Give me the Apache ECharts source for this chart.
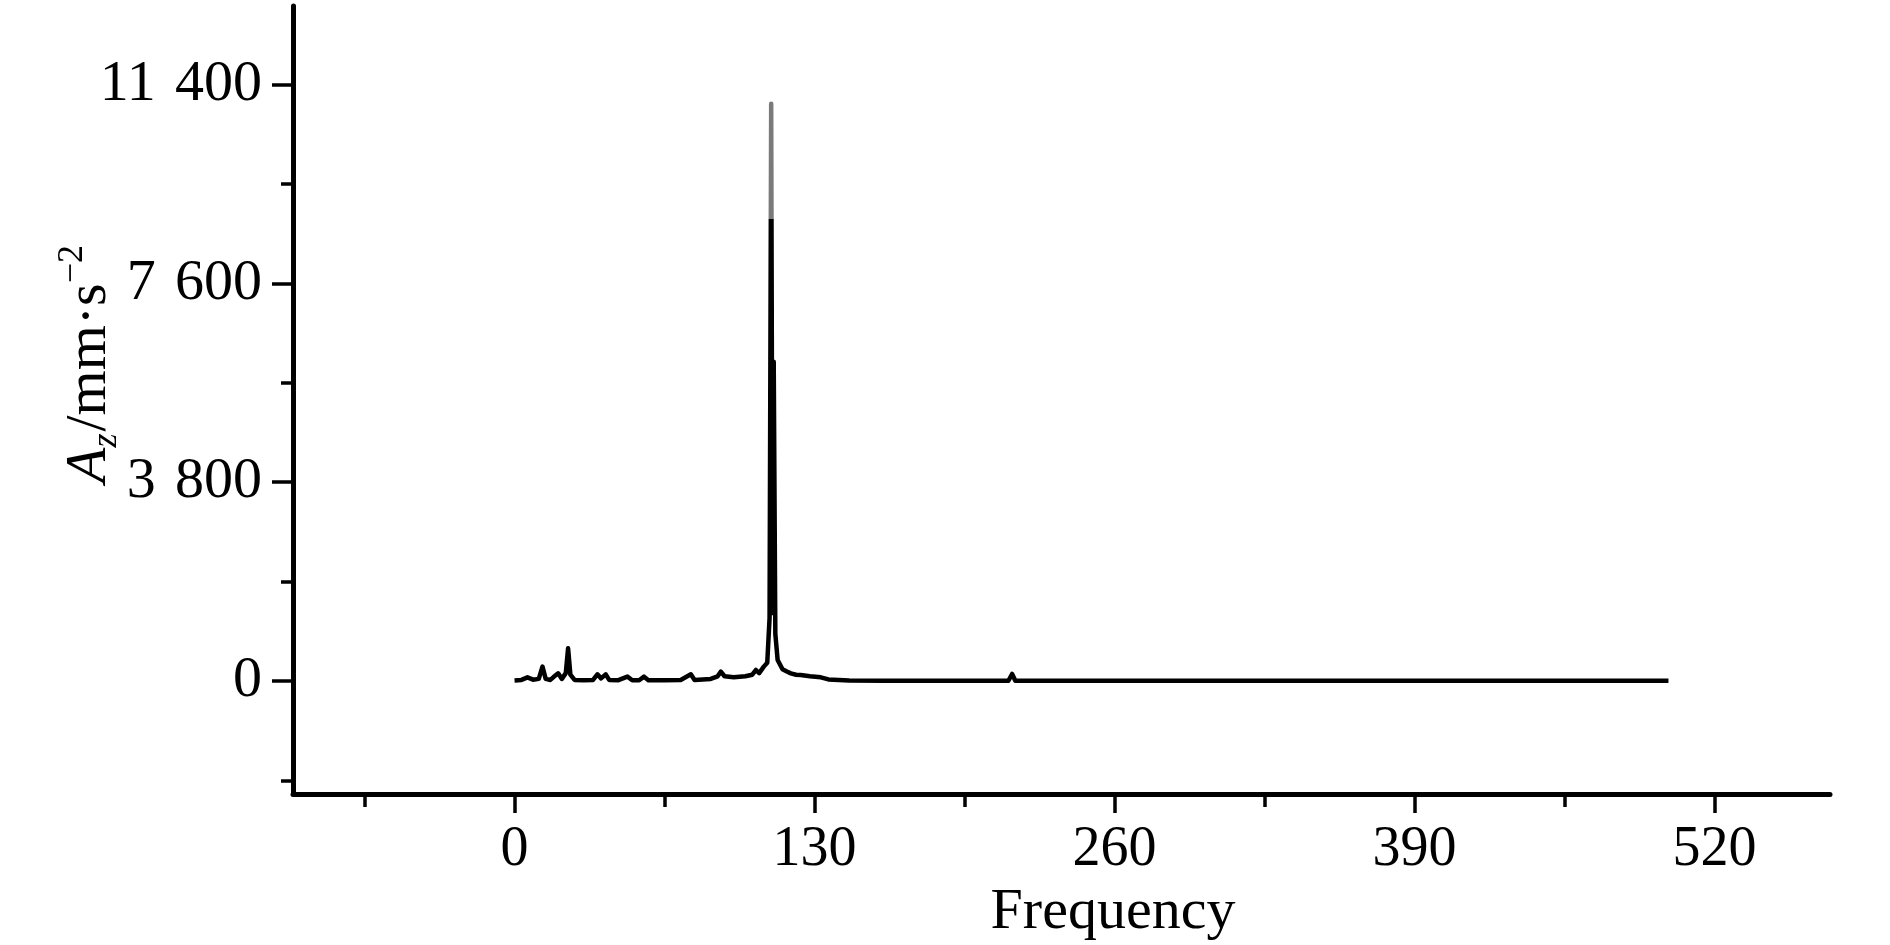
<!DOCTYPE html>
<html>
<head>
<meta charset="utf-8">
<script src="https://cdn.jsdelivr.net/npm/echarts@6/dist/echarts.min.js"></script>
<style>
html,body{margin:0;padding:0;background:#fff;}
#chart{width:1890px;height:945px;}
</style>
</head>
<body>
<div id="chart"></div>
<script>
// Frequency (Hz) and amplitude A_z (mm·s^-2)
const freq = [0, 3, 5.6, 8, 10.5, 12.1, 13.5, 15.5, 17, 18.9, 20.5, 22.2, 23.2, 24.2, 26, 30, 34, 35.9, 37.5, 39.5, 41, 45, 48.9, 51, 54, 56.1, 58, 65, 72, 76.4, 78, 85, 88, 89.4, 91, 95, 100, 103, 104.6, 106, 108, 109.5, 110.5, 111.2, 111.8, 112.3, 113, 114, 116.1, 118, 119.7, 122, 124, 128, 132.7, 136, 145, 160, 200, 214, 215.6, 217, 260, 350, 450, 500];
const amp  = [10, 20, 70, 25, 40, 275, 40, 20, 80, 146, 40, 150, 624, 120, 20, 15, 20, 127, 50, 127, 20, 15, 83, 15, 15, 83, 15, 15, 20, 127, 20, 40, 90, 178, 90, 70, 90, 120, 210, 150, 274, 350, 1200, 11030, 1300, 6100, 900, 400, 223, 180, 146, 120, 115, 90, 70, 30, 10, 5, 5, 5, 134, 5, 3, 3, 3, 3];
const grayAbove = 8800; // the top of the main peak is drawn grey in the reference

const xMajorTicks = [0, 130, 260, 390, 520];
const xMinorTicks = [-65, 65, 195, 325, 455];
const yMajorTicks = [0, 3800, 7600, 11400];
const yMinorTicks = [-1900, 1900, 5700, 9500];
const xRange = [-96, 570];
const yRange = [-2160, 12900];

const FONT = '"Liberation Serif", "Times New Roman", serif';
const chart = echarts.init(document.getElementById('chart'), null, {renderer: 'canvas'});

function fmtY(v) {
  const s = String(Math.round(v));
  if (s.length <= 3) return s;
  return s.slice(0, s.length - 3) + '\u2004' + s.slice(s.length - 3);
}

const aMax = Math.max.apply(null, amp), aMin = Math.min.apply(null, amp);
const gStop = (aMax - grayAbove) / (aMax - aMin);
const lineColor = {
  type: 'linear', x: 0, y: 0, x2: 0, y2: 1,
  colorStops: [
    {offset: 0, color: '#7a7a7a'}, {offset: gStop, color: '#7a7a7a'},
    {offset: gStop, color: '#000'}, {offset: 1, color: '#000'}
  ]
};

const axisLineStyle = {show: true, onZero: false, lineStyle: {color: '#000', width: 5}};
const tickStyle = {color: '#000', width: 3.5};

const option = {
  backgroundColor: '#fff',
  animation: false,
  grid: {left: 293, right: 60, top: 6, bottom: 151},
  xAxis: [
    {
      type: 'value', min: xRange[0], max: xRange[1], position: 'bottom',
      axisLine: axisLineStyle,
      axisTick: {show: true, inside: false, length: 19, customValues: xMajorTicks, lineStyle: tickStyle},
      axisLabel: {show: true, customValues: xMajorTicks, margin: 28, fontSize: 56, fontFamily: FONT, color: '#000'},
      splitLine: {show: false}
    },
    {
      type: 'value', min: xRange[0], max: xRange[1], position: 'bottom',
      axisLine: {show: false, onZero: false},
      axisTick: {show: true, inside: false, length: 13, customValues: xMinorTicks, lineStyle: tickStyle},
      axisLabel: {show: false},
      splitLine: {show: false}
    }
  ],
  yAxis: [
    {
      type: 'value', min: yRange[0], max: yRange[1], position: 'left',
      axisLine: axisLineStyle,
      axisTick: {show: true, inside: false, length: 21, customValues: yMajorTicks, lineStyle: tickStyle},
      axisLabel: {show: true, customValues: yMajorTicks, margin: 31, fontSize: 58, fontFamily: FONT, color: '#000', formatter: fmtY},
      splitLine: {show: false}
    },
    {
      type: 'value', min: yRange[0], max: yRange[1], position: 'left',
      axisLine: {show: false, onZero: false},
      axisTick: {show: true, inside: false, length: 12, customValues: yMinorTicks, lineStyle: tickStyle},
      axisLabel: {show: false},
      splitLine: {show: false}
    }
  ],
  series: [{
    type: 'line',
    xAxisIndex: 0, yAxisIndex: 0,
    data: freq.map((f, i) => [f, amp[i]]),
    showSymbol: false, symbol: 'none',
    lineStyle: {color: lineColor, width: 4.5, join: 'round'},
    smooth: false
  }],
  graphic: [
    {
      type: 'text', x: 1113, y: 913,
      style: {text: 'Frequency', font: '58px ' + FONT, fill: '#000', align: 'center', verticalAlign: 'middle'}
    },
    {
      type: 'text', x: 90, y: 364, rotation: Math.PI / 2,
      style: {
        text: '{a|A}{z|z}{n|/mm·s}{s|\u22122}',
        align: 'center', verticalAlign: 'middle', fill: '#000',
        rich: {
          a: {fontSize: 58, fontFamily: FONT, fontStyle: 'italic', lineHeight: 70, verticalAlign: 'middle'},
          z: {fontSize: 36, fontFamily: FONT, fontStyle: 'italic', lineHeight: 70, verticalAlign: 'bottom', padding: [0, 2, 0, 0]},
          n: {fontSize: 58, fontFamily: FONT, lineHeight: 70, verticalAlign: 'middle'},
          s: {fontSize: 36, fontFamily: FONT, lineHeight: 70, verticalAlign: 'top'}
        }
      }
    }
  ]
};
chart.setOption(option);
</script>
</body>
</html>
